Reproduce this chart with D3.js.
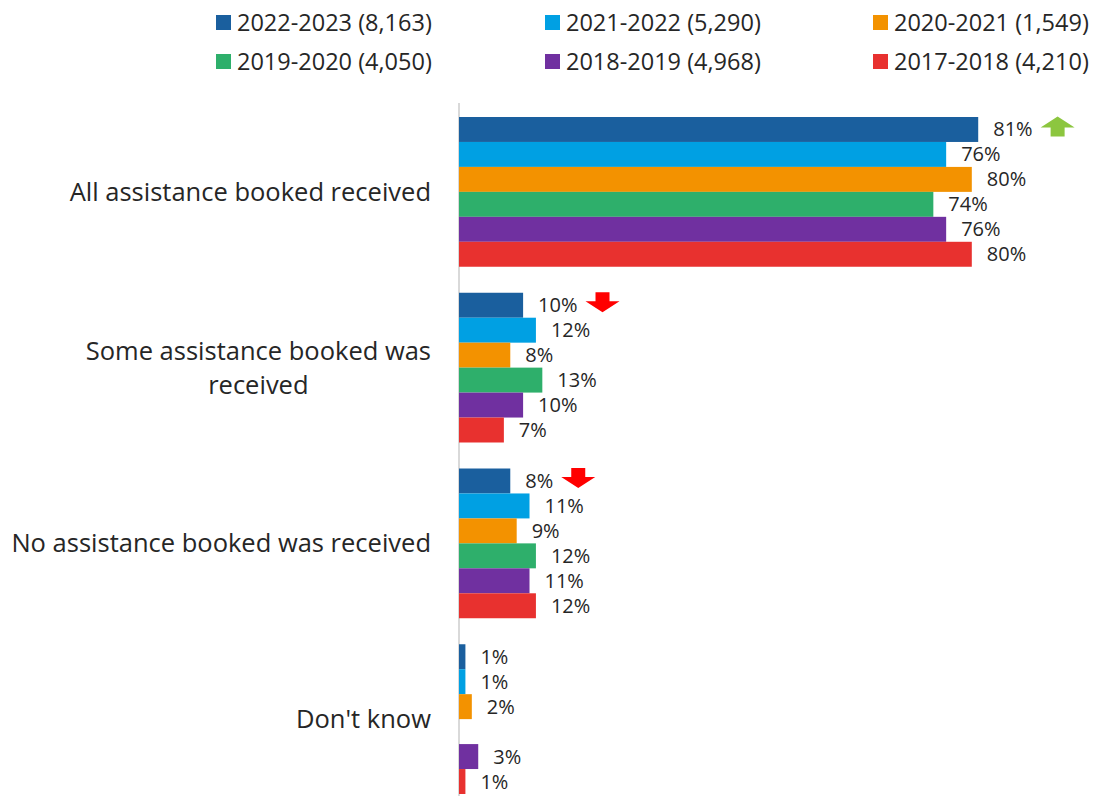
<!DOCTYPE html>
<html>
<head>
<meta charset="utf-8">
<script src="https://cdn.jsdelivr.net/npm/d3@7"></script>
<style>
  body { margin: 0; background: #fff; }
  svg { font-family: "Open Sans", sans-serif; fill: #262626; }
</style>
</head>
<body>
<svg id="chart" width="1096" height="796"></svg>
<script>
const categories = [
  'All assistance booked received',
  'Some assistance booked was received',
  'No assistance booked was received',
  "Don't know",
];
const categoryLines = [
  ['All assistance booked received'],
  ['Some assistance booked was', 'received'],
  ['No assistance booked was received'],
  ["Don't know"],
];
const seriesNames = ['2022-2023', '2021-2022', '2020-2021', '2019-2020', '2018-2019', '2017-2018'];
const seriesBase = ['8,163', '5,290', '1,549', '4,050', '4,968', '4,210'];
const seriesColors = ['#1a5f9e', '#00a0e3', '#f39200', '#2eaf6b', '#7030a0', '#e8312f'];
// values per series, in category order
const values = [
  [81, 10, 8, 1],
  [76, 12, 11, 1],
  [80, 8, 9, 2],
  [74, 13, 12, null],
  [76, 10, 11, 3],
  [80, 7, 12, 1],
];
// significance arrows: [category index, series index, direction]
const arrows = [
  [0, 0, 'up'],
  [1, 0, 'down'],
  [2, 0, 'down'],
];

const svg = d3.select('#chart');
const axisX = 459;

const x = d3.scaleLinear().domain([0, 100]).range([axisX, axisX + 641]);
const y = d3.scaleBand().domain(categories).range([104, 807]).paddingInner(0.148).paddingOuter(0.074);
const ySeries = d3.scaleBand().domain(seriesNames).range([0, y.bandwidth()]);

// legend
const legend = svg.append('g');
const legendCols = [216, 545, 873];
const legendRows = [22.5, 61.5];
seriesNames.forEach((s, i) => {
  const g = legend.append('g')
    .attr('transform', `translate(${legendCols[i % 3]},${legendRows[Math.floor(i / 3)]})`);
  g.append('rect').attr('x', 0).attr('y', -7.5).attr('width', 15).attr('height', 15)
    .attr('fill', seriesColors[i]);
  g.append('text').attr('x', 21).attr('y', 0).attr('dy', '0.35em')
    .attr('font-size', 23.5).text(`${s} (${seriesBase[i]})`);
});

// axis line
svg.append('line')
  .attr('x1', axisX).attr('x2', axisX).attr('y1', 103).attr('y2', 796)
  .attr('stroke', '#d9d9d9').attr('stroke-width', 2);

// category labels
categories.forEach((c, ci) => {
  const lines = categoryLines[ci];
  const cy = y(c) + y.bandwidth() / 2;
  const lh = 34;
  const t = svg.append('text').attr('font-size', 25.5).attr('text-anchor', 'middle');
  lines.forEach((ln, li) => {
    t.append('tspan').attr('x', 0)
      .attr('y', cy + (li - (lines.length - 1) / 2) * lh)
      .attr('dy', '0.35em').text(ln);
  });
  const w = t.node().getBBox().width;
  t.attr('transform', `translate(${431 - w / 2},0)`);
});

// bars
const barData = [];
seriesNames.forEach((s, si) => {
  categories.forEach((c, ci) => {
    const v = values[si][ci];
    if (v == null) return;
    barData.push({ s, si, c, ci, v });
  });
});

const bars = svg.append('g');
bars.selectAll('rect')
  .data(barData)
  .join('rect')
  .attr('x', x(0))
  .attr('y', (d) => y(d.c) + ySeries(d.s))
  .attr('width', (d) => x(d.v) - x(0))
  .attr('height', ySeries.bandwidth())
  .attr('fill', (d) => seriesColors[d.si]);

const labels = svg.append('g').selectAll('text')
  .data(barData)
  .join('text')
  .attr('x', (d) => x(d.v) + 15)
  .attr('y', (d) => y(d.c) + ySeries(d.s) + ySeries.bandwidth() / 2)
  .attr('dy', '0.35em')
  .attr('font-size', 20)
  .text((d) => `${d.v}%`);

// arrows
const labelNodes = labels.nodes();
arrows.forEach(([ci, si, dir]) => {
  const idx = barData.findIndex((d) => d.ci === ci && d.si === si);
  const bb = labelNodes[idx].getBBox();
  const x0 = bb.x + bb.width + 8;
  const cy = y(categories[ci]) + ySeries(seriesNames[si]) + ySeries.bandwidth() / 2 - 3;
  const w = 34, h = 20, sw = 14, head = 11;
  let pts;
  if (dir === 'up') {
    pts = [[0, head], [w / 2, 0], [w, head], [w / 2 + sw / 2, head], [w / 2 + sw / 2, h], [w / 2 - sw / 2, h], [w / 2 - sw / 2, head]];
  } else {
    pts = [[w / 2 - sw / 2, 0], [w / 2 + sw / 2, 0], [w / 2 + sw / 2, h - head], [w, h - head], [w / 2, h], [0, h - head], [w / 2 - sw / 2, h - head]];
  }
  svg.append('polygon')
    .attr('points', pts.map((p) => `${x0 + p[0]},${cy - h / 2 + p[1]}`).join(' '))
    .attr('fill', dir === 'up' ? '#8cc63f' : '#ff0000');
});
</script>
</body>
</html>
